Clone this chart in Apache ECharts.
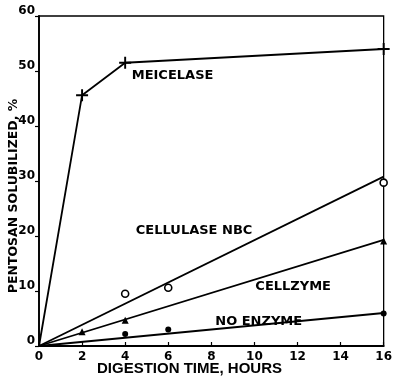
<!DOCTYPE html>
<html><head><meta charset="utf-8">
<script src="https://cdn.jsdelivr.net/npm/echarts@6/dist/echarts.min.js"></script>
<style>html,body{margin:0;padding:0;background:#fff}#c{width:395px;height:377px}</style>
</head><body><div id="c"></div>
<script>
// Data
const xTicks = [0, 2, 4, 6, 8, 10, 12, 14, 16];
const yTicks = [0, 10, 20, 30, 40, 50, 60];

const meicelaseX = [0, 2, 4, 16];
const meicelaseY = [0, 45.6, 51.5, 54.0];

const cellulaseX = [4, 6, 16];
const cellulaseY = [9.5, 10.6, 29.7];
const cellulaseFitX = [0, 16];
const cellulaseFitY = [0, 30.8];

const cellzymeX = [2, 4, 16];
const cellzymeY = [2.6, 4.7, 19.1];
const cellzymeFitX = [0, 16];
const cellzymeFitY = [0, 19.3];

const noEnzymeX = [4, 6, 16];
const noEnzymeY = [2.2, 3.0, 5.9];
const noEnzymeFitX = [0, 16];
const noEnzymeFitY = [0, 6.0];

const labelNames = ['MEICELASE', 'CELLULASE NBC', 'CELLZYME', 'NO ENZYME'];
const labelX = [6.2, 7.2, 11.8, 10.2];
const labelY = [49.1, 21.0, 10.8, 4.4];

const zip = (xs, ys) => xs.map((x, i) => [x, ys[i]]);
const INK = '#000';
const F = 'DejaVu Sans';

const chart = echarts.init(document.getElementById('c'));
const lineStyle = { color: INK, width: 1.8 };
const plus = 'path://M4.2,0H5.8V4.2H10V5.8H5.8V10H4.2V5.8H0V4.2H4.2Z';

chart.setOption({
  animation: false,
  backgroundColor: '#fff',
  grid: { left: 39, top: 16, right: 6, bottom: 31, show: true, borderColor: INK, borderWidth: 1.3 },
  xAxis: {
    type: 'value', min: 0, max: 16, interval: 2,
    axisLine: { lineStyle: { color: INK, width: 1.8 } },
    axisTick: { inside: true, length: 4, lineStyle: { color: INK, width: 1.2 } },
    splitLine: { show: false },
    axisLabel: { color: INK, fontFamily: F, fontWeight: 'bold', fontSize: 12, margin: 5,
      formatter: v => xTicks.includes(v) ? String(v) : '' }
  },
  yAxis: {
    type: 'value', min: 0, max: 60, interval: 10,
    axisLine: { lineStyle: { color: INK, width: 1.8 } },
    axisTick: { inside: false, length: 4, lineStyle: { color: INK, width: 1.2 } },
    splitLine: { show: false },
    axisLabel: { color: INK, fontFamily: F, fontWeight: 'bold', fontSize: 12, margin: 4,
      verticalAlign: 'bottom', lineHeight: 10, formatter: v => yTicks.includes(v) ? String(v) : '' }
  },
  series: [
    { type: 'line', data: zip(meicelaseX, meicelaseY), symbol: 'none', lineStyle, z: 2 },
    { type: 'scatter', data: zip(meicelaseX.slice(1), meicelaseY.slice(1)), symbol: plus, symbolSize: 12,
      itemStyle: { color: INK, opacity: 1 }, clip: false, z: 3 },
    { type: 'line', data: zip(cellulaseFitX, cellulaseFitY), symbol: 'none', lineStyle, z: 2 },
    { type: 'scatter', data: zip(cellulaseX, cellulaseY), symbol: 'circle', symbolSize: 7,
      itemStyle: { color: '#fff', borderColor: INK, borderWidth: 1.6, opacity: 1 }, clip: false, z: 3 },
    { type: 'line', data: zip(cellzymeFitX, cellzymeFitY), symbol: 'none', lineStyle, z: 2 },
    { type: 'scatter', data: zip(cellzymeX, cellzymeY), symbol: 'triangle', symbolSize: 7,
      itemStyle: { color: INK, opacity: 1 }, clip: false, z: 3 },
    { type: 'line', data: zip(noEnzymeFitX, noEnzymeFitY), symbol: 'none', lineStyle, z: 2 },
    { type: 'scatter', data: zip(noEnzymeX, noEnzymeY), symbol: 'circle', symbolSize: 6,
      itemStyle: { color: INK, opacity: 1 }, clip: false, z: 3 },
    { type: 'scatter', data: labelNames.map((n, i) => ({ name: n, value: [labelX[i], labelY[i]] })),
      symbolSize: 1, itemStyle: { color: 'transparent', opacity: 1 }, z: 4,
      label: { show: true, position: 'inside', formatter: p => p.name, color: INK, opacity: 1,
        textBorderWidth: 0, textBorderColor: 'transparent',
        fontFamily: F, fontWeight: 'bold', fontSize: 13 } }
  ],
  graphic: [
    { type: 'text', left: 97, top: 361, style: { text: 'DIGESTION TIME, HOURS', fill: INK,
      font: 'bold 15px "Liberation Sans"' } },
    { type: 'text', x: 14, y: 196, rotation: Math.PI / 2, style: { text: 'PENTOSAN SOLUBILIZED, %', fill: INK,
      font: 'bold 12.5px "DejaVu Sans"', align: 'center', verticalAlign: 'middle' } }
  ]
});
</script></body></html>
